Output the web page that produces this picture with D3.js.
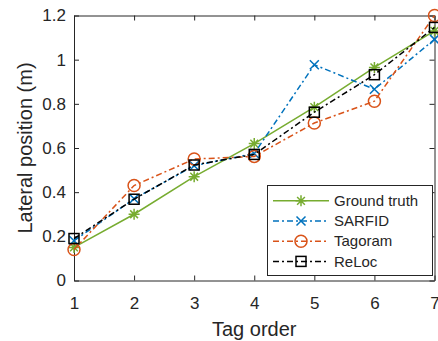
<!DOCTYPE html>
<html>
<head>
<meta charset="utf-8">
<script src="https://cdn.jsdelivr.net/npm/d3@7"></script>
<style>
  body { margin: 0; background: #fff; }
  svg text { font-family: "Liberation Sans", Arial, sans-serif; fill: #262626; }
</style>
</head>
<body>
<div id="chart"></div>
<script>
const WIDTH = 438;
const HEIGHT = 341;
const MARGIN = { top: 15.5, right: 3.5, bottom: 60.5, left: 74 };

const tagOrder = [1, 2, 3, 4, 5, 6, 7];
const groundTruth = [0.15, 0.30, 0.47, 0.62, 0.785, 0.965, 1.13];
const sarfid = [0.18, 0.37, 0.52, 0.575, 0.977, 0.866, 1.092];
const tagoram = [0.14, 0.43, 0.55, 0.562, 0.713, 0.812, 1.2];
const reloc = [0.19, 0.368, 0.523, 0.571, 0.762, 0.932, 1.146];

const xTicks = [1, 2, 3, 4, 5, 6, 7];
const yTicks = [0, 0.2, 0.4, 0.6, 0.8, 1.0, 1.2];

const seriesList = [
    { name: "Ground truth", values: groundTruth, color: "#77AC30", dash: null, marker: "star" },
    { name: "SARFID", values: sarfid, color: "#0072BD", dash: "6,3,2,3", marker: "cross" },
    { name: "Tagoram", values: tagoram, color: "#D95319", dash: "6,3,2,3", marker: "circle" },
    { name: "ReLoc", values: reloc, color: "#000000", dash: "6,3,2,3", marker: "square" }
];

const innerW = WIDTH - MARGIN.left - MARGIN.right;
const innerH = HEIGHT - MARGIN.top - MARGIN.bottom;

const x = d3.scaleLinear().domain([1, 7]).range([MARGIN.left, MARGIN.left + innerW]);
const y = d3.scaleLinear().domain([0, 1.2]).range([MARGIN.top + innerH, MARGIN.top]);

const svg = d3.select("#chart").append("svg")
    .attr("width", WIDTH)
    .attr("height", HEIGHT);

// axes (MATLAB style box with inward ticks)
const axisColor = "#262626";
const drawAxis = (axis, transform) => {
    let g = svg.append("g").attr("transform", transform).call(axis);
    g.select(".domain").attr("stroke", axisColor).attr("stroke-width", 1);
    g.selectAll(".tick line").attr("stroke", axisColor);
    return g;
}

let xBottom = drawAxis(d3.axisBottom(x).tickValues(xTicks).tickSizeInner(-5).tickSizeOuter(0).tickPadding(16).tickFormat(d3.format("d")),
    `translate(0,${MARGIN.top + innerH})`);
xBottom.selectAll("text").attr("font-size", 17).attr("fill", axisColor);

drawAxis(d3.axisTop(x).tickValues(xTicks).tickSizeInner(-5).tickSizeOuter(0).tickFormat(""),
    `translate(0,${MARGIN.top})`);

let yLeft = drawAxis(d3.axisLeft(y).tickValues(yTicks).tickSizeInner(-5).tickSizeOuter(0).tickPadding(8).tickFormat(d => d === 0 ? "0" : d3.format("~g")(d)),
    `translate(${MARGIN.left},0)`);
yLeft.selectAll("text").attr("font-size", 17).attr("fill", axisColor);

drawAxis(d3.axisRight(y).tickValues(yTicks).tickSizeInner(-5).tickSizeOuter(0).tickFormat(""),
    `translate(${MARGIN.left + innerW},0)`);

// axis labels
svg.append("text")
    .attr("x", MARGIN.left + innerW / 2)
    .attr("y", 336)
    .attr("text-anchor", "middle")
    .attr("font-size", 20)
    .text("Tag order");

svg.append("text")
    .attr("transform", `translate(32,${MARGIN.top + innerH / 2}) rotate(-90)`)
    .attr("text-anchor", "middle")
    .attr("font-size", 20)
    .text("Lateral position (m)");

// markers
const drawMarker = (g, type, cx, cy, color) => {
    if (type === "star") {
        let r = 5.5;
        let p = "";
        [0, 45, 90, 135].forEach(a => {
            let rad = a * Math.PI / 180;
            p += `M${cx - r * Math.cos(rad)},${cy - r * Math.sin(rad)}L${cx + r * Math.cos(rad)},${cy + r * Math.sin(rad)}`;
        });
        g.append("path").attr("d", p).attr("stroke", color).attr("stroke-width", 1.5).attr("fill", "none");
    } else if (type === "cross") {
        let r = 4.5;
        g.append("path")
            .attr("d", `M${cx - r},${cy - r}L${cx + r},${cy + r}M${cx - r},${cy + r}L${cx + r},${cy - r}`)
            .attr("stroke", color).attr("stroke-width", 1.5).attr("fill", "none");
    } else if (type === "circle") {
        g.append("circle").attr("cx", cx).attr("cy", cy).attr("r", 6)
            .attr("stroke", color).attr("stroke-width", 1.5).attr("fill", "none");
    } else if (type === "square") {
        g.append("rect").attr("x", cx - 5).attr("y", cy - 5).attr("width", 10).attr("height", 10)
            .attr("stroke", color).attr("stroke-width", 1.5).attr("fill", "none");
    }
}

const line = d3.line().x(d => x(d[0])).y(d => y(d[1]));

seriesList.forEach(s => {
    let pts = tagOrder.map((t, i) => [t, s.values[i]]);
    let g = svg.append("g");
    g.append("path")
        .attr("d", line(pts))
        .attr("fill", "none")
        .attr("stroke", s.color)
        .attr("stroke-width", 1.5)
        .attr("stroke-dasharray", s.dash);
    pts.forEach(p => drawMarker(g, s.marker, x(p[0]), y(p[1]), s.color));
});

// legend
const legend = svg.append("g");
legend.append("rect")
    .attr("x", 267.5).attr("y", 185.5).attr("width", 165).attr("height", 90)
    .attr("fill", "#fff").attr("stroke", axisColor).attr("stroke-width", 1);

seriesList.forEach((s, i) => {
    let ly = 200.8 + i * 20.2;
    legend.append("line")
        .attr("x1", 273).attr("x2", 329).attr("y1", ly).attr("y2", ly)
        .attr("stroke", s.color).attr("stroke-width", 1.5)
        .attr("stroke-dasharray", s.dash);
    drawMarker(legend, s.marker, 301, ly, s.color);
    legend.append("text")
        .attr("x", 334).attr("y", ly)
        .attr("dy", "0.35em")
        .attr("font-size", 15)
        .text(s.name);
});
</script>
</body>
</html>
